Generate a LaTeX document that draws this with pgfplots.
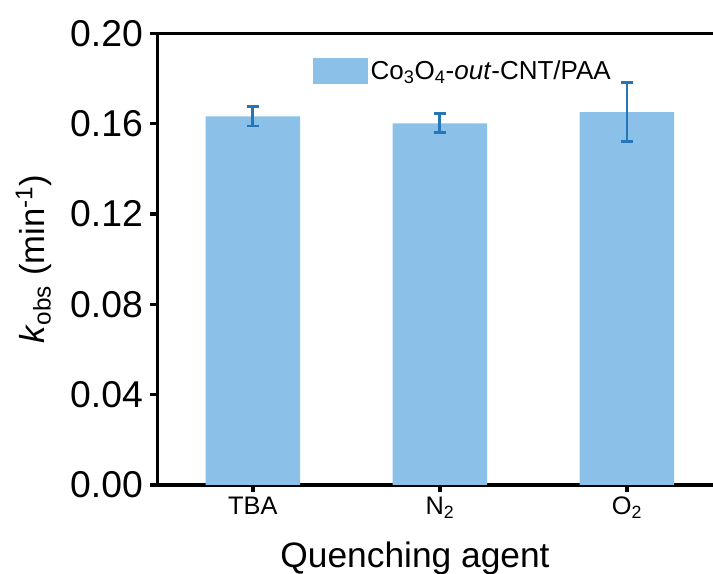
\documentclass[border=0pt]{standalone}
\usepackage{pgfplots}
\pgfplotsset{compat=1.18}
\usepackage{fontspec}
\setmainfont{Liberation Sans}
\definecolor{barblue}{RGB}{139,192,232}
\definecolor{errblue}{RGB}{38,117,182}
\begin{document}
\begin{tikzpicture}
\begin{axis}[
  name=ax,
  scale only axis,
  width=416.6pt, height=338.6pt,
  xmin=-0.51, xmax=2.46,
  ymin=0, ymax=0.2,
  separate axis lines,
  axis x line=box, axis y line=left,
  axis line style={-, line width=2.5pt},
  x axis line style={-}, y axis line style={-},
  xtick pos=bottom, ytick pos=left,
  tick align=outside,
  major tick length=5.25pt,
  every tick/.style={line width=2.5pt, black},
  xtick={0,1,2},
  xticklabels={TBA, N\textsubscript{2}, O\textsubscript{2}},
  ytick={0,0.04,0.08,0.12,0.16,0.2},
  yticklabel style={/pgf/number format/fixed, /pgf/number format/fixed zerofill, /pgf/number format/precision=2, /pgf/number format/assume math mode=true},
  yticklabel style={font=\fontsize{28}{32}\selectfont, inner sep=5.5pt},
  xticklabel style={font=\fontsize{19}{22}\selectfont},
  xlabel={Quenching agent},
  ylabel={\textit{k}\textsubscript{obs} (min\textsuperscript{-1})},
  xlabel style={font=\fontsize{26.5}{30}\selectfont, at={(axis description cs:0.4636,-0.162)}, anchor=center},
  ylabel style={font=\fontsize{26}{30}\selectfont, at={(axis description cs:-0.223,0.5)}, anchor=center},
  legend style={at={(axis description cs:0.28,0.917)}, anchor=west, draw=none, fill=none, inner sep=0pt,
    font=\fontsize{19.5}{22}\selectfont, cells={anchor=west}},
  legend image code/.code={\fill[barblue] (0pt,-9.75pt) rectangle (41pt,9.75pt);},
]
\addplot[ybar, bar width=0.505, fill=barblue, draw=none,
  error bars/.cd, y dir=both, y explicit,
  error bar style={line width=2.2pt, color=errblue},
  error mark options={rotate=90, mark size=4.4pt, line width=2.2pt, color=errblue}]
  coordinates {
    (0, 0.1633) +- (0, 0.0043)
    (1, 0.1602) +- (0, 0.0042)
    (2, 0.1652) +- (0, 0.0131)
  };
\addlegendentry{Co\textsubscript{3}O\textsubscript{4}-\textit{out}-CNT/PAA}
\end{axis}
\path (ax.south west) ++(-118.1pt,-66.75pt) coordinate (bl);
\path (ax.north east) ++(0pt,25.1pt) coordinate (tr);
\pgfresetboundingbox
\useasboundingbox (bl) rectangle (tr);
\end{tikzpicture}
\end{document}
